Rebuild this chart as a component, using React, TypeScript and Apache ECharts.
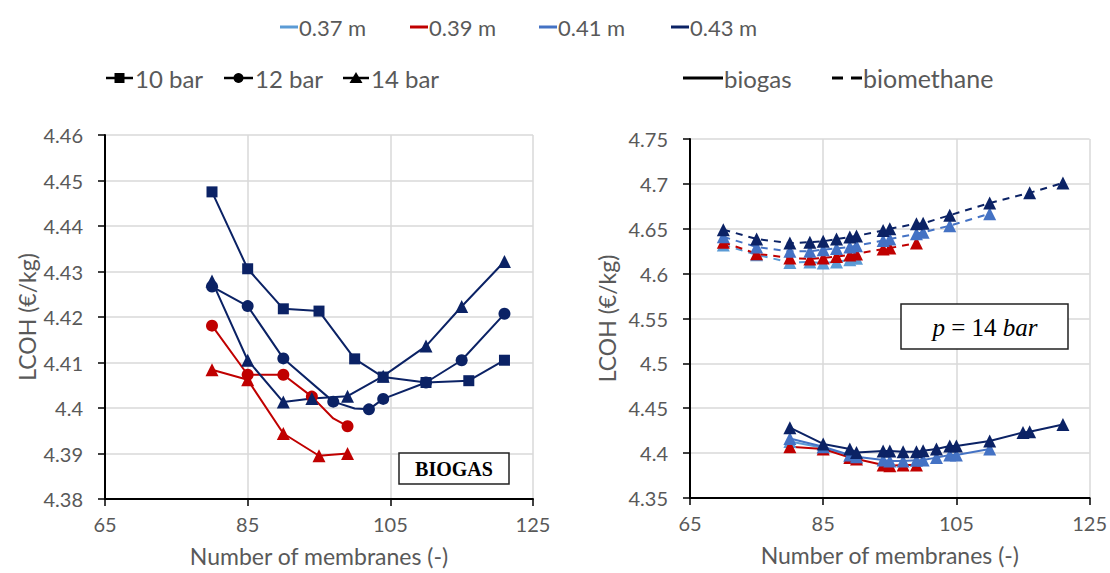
import React, { useEffect, useRef } from "react";
import * as echarts from "echarts";

// ---------- colours per membrane length ----------
const C37 = "#5B9BD5";
const C39 = "#C00000";
const C41 = "#4472C4";
const C43 = "#0B2265";

// ---------- legend labels ----------
const lengthLabels = ["0.37 m", "0.39 m", "0.41 m", "0.43 m"];
const pressureLabels = ["10 bar", "12 bar", "14 bar"];
const gasLabels = ["biogas", "biomethane"];

// ---------- axis ticks ----------
const xTicks = [65, 85, 105, 125];
const leftY = { min: 4.38, max: 4.46, step: 0.01 };
const rightY = { min: 4.35, max: 4.75, step: 0.05 };

// ---------- LEFT panel (biogas) ----------
const l43_10_x = [80, 85, 90, 95, 100, 104, 110, 116, 121];
const l43_10_y = [4.4475, 4.4306, 4.4218, 4.4213, 4.4108, 4.4068, 4.4056, 4.406, 4.4105];
const l43_12_x = [80, 85, 90, 97, 100, 102, 104, 110, 115, 121];
const l43_12_y = [4.4267, 4.4224, 4.4109, 4.4014, 4.3999, 4.3997, 4.402, 4.4056, 4.4105, 4.4207];
const l43_12_plain = [100];
const l43_14_x = [80, 85, 90, 94, 99, 104, 110, 115, 121];
const l43_14_y = [4.4279, 4.4105, 4.4013, 4.4021, 4.4026, 4.407, 4.4136, 4.4223, 4.4322];
const l39_12_x = [80, 85, 90, 94, 97, 99];
const l39_12_y = [4.4181, 4.4073, 4.4073, 4.4025, 4.3977, 4.396];
const l39_12_plain = [97];
const l39_14_x = [80, 85, 90, 95, 99];
const l39_14_y = [4.4084, 4.4062, 4.3944, 4.3895, 4.39];

// ---------- RIGHT panel (14 bar) ----------
const r37_bg_x = [80, 85, 89, 90];
const r37_bg_y = [4.413, 4.406, 4.397, 4.395];
const r39_bg_x = [80, 85, 89, 90, 94, 95, 97, 99];
const r39_bg_y = [4.4071, 4.4046, 4.395, 4.3935, 4.3868, 4.386, 4.3868, 4.3868];
const r41_bg_x = [80, 85, 89, 90, 94, 95, 97, 99, 100, 102, 104, 105, 110];
const r41_bg_y = [4.4164, 4.4071, 4.398, 4.396, 4.3923, 4.3912, 4.3912, 4.392, 4.3923, 4.395, 4.398, 4.398, 4.4046];
const r43_bg_x = [80, 85, 89, 90, 94, 95, 97, 99, 100, 102, 104, 105, 110, 115, 116, 121];
const r43_bg_y = [4.4283, 4.4102, 4.4046, 4.4008, 4.4024, 4.4024, 4.4016, 4.4016, 4.4027, 4.4046, 4.408, 4.408, 4.4135, 4.4231, 4.4239, 4.4318];

const r37_bm_x = [70, 75, 80, 83, 85, 87, 89, 90];
const r37_bm_y = [4.632, 4.621, 4.6125, 4.613, 4.6118, 4.613, 4.6155, 4.617];
const r39_bm_x = [70, 75, 80, 83, 85, 87, 89, 90, 94, 95, 99];
const r39_bm_y = [4.635, 4.6222, 4.6174, 4.6163, 4.6174, 4.619, 4.6207, 4.622, 4.6274, 4.6285, 4.634];
const r41_bm_x = [70, 75, 80, 83, 85, 87, 89, 90, 94, 95, 99, 100, 104, 110];
const r41_bm_y = [4.641, 4.6297, 4.6248, 4.625, 4.6267, 4.628, 4.6297, 4.631, 4.637, 4.6386, 4.6445, 4.646, 4.6534, 4.6668];
const r43_bm_x = [70, 75, 80, 83, 85, 87, 89, 90, 94, 95, 99, 100, 104, 110, 116, 121];
const r43_bm_y = [4.649, 4.6386, 4.634, 4.635, 4.636, 4.6386, 4.6408, 4.642, 4.648, 4.65, 4.6556, 4.656, 4.665, 4.6787, 4.69, 4.701];

const FONT = "Lato, 'Open Sans', sans-serif";
const GREY = "#595959";

function pts(xs: number[], ys: number[], plain: number[] = []) {
  return xs.map((x, i) =>
    plain.includes(x) ? { value: [x, ys[i]], symbol: "none" } : [x, ys[i]]
  );
}

function ser(
  grid: number,
  color: string,
  symbol: string,
  size: number,
  data: any[],
  dashed = false
) {
  return {
    type: "line",
    xAxisIndex: grid,
    yAxisIndex: grid,
    data,
    symbol,
    symbolSize: size,
    showSymbol: true,
    lineStyle: { color, width: 2, type: dashed ? [7, 6] : "solid" },
    itemStyle: { color, borderWidth: 0 },
    emphasis: { disabled: true },
  };
}

function fmt(v: number) {
  return String(parseFloat(v.toFixed(2)));
}

function xAxis(grid: number) {
  return {
    type: "value",
    gridIndex: grid,
    min: xTicks[0],
    max: xTicks[xTicks.length - 1],
    interval: 20,
    name: "Number of membranes (-)",
    nameLocation: "middle",
    nameGap: 45,
    nameTextStyle: { fontFamily: FONT, fontSize: 23, color: GREY },
    axisLine: { show: true, onZero: false, lineStyle: { color: "#000", width: 2 } },
    axisTick: { show: true, inside: false, length: 7, lineStyle: { color: "#000", width: 1.5 } },
    axisLabel: { fontFamily: FONT, fontSize: 20, color: GREY, margin: 15 },
    splitLine: { show: true, lineStyle: { color: "#d9d9d9", width: 1.5 } },
  };
}

function yAxis(grid: number, r: { min: number; max: number; step: number }, gap: number) {
  return {
    type: "value",
    gridIndex: grid,
    min: r.min,
    max: r.max,
    interval: r.step,
    name: "LCOH (€/kg)",
    nameLocation: "middle",
    nameGap: gap,
    nameTextStyle: { fontFamily: FONT, fontSize: 23, color: GREY },
    axisLine: { show: true, onZero: false, lineStyle: { color: "#000", width: 2 } },
    axisTick: { show: true, inside: false, length: 7, lineStyle: { color: "#000", width: 1.5 } },
    axisLabel: { fontFamily: FONT, fontSize: 20, color: GREY, margin: 22, formatter: fmt },
    splitLine: { show: true, lineStyle: { color: "#d9d9d9", width: 1.5 } },
  };
}

function buildGraphic() {
  const g: any[] = [];
  const txt = (x: number, y: number, text: string, size: number) => ({
    type: "text",
    x,
    y,
    style: { text, fontFamily: FONT, fontSize: size, fill: GREY, verticalAlign: "middle" },
  });
  const ln = (x1: number, x2: number, y: number, stroke: string, w = 3) => ({
    type: "line",
    shape: { x1, y1: y, x2, y2: y },
    style: { stroke, lineWidth: w },
  });
  // top legend: membrane lengths
  const lColors = [C37, C39, C41, C43];
  const lStart = [280, 410, 539, 671];
  lengthLabels.forEach((lab, i) => {
    g.push(ln(lStart[i], lStart[i] + 18, 27, lColors[i], 3));
    g.push(txt(lStart[i] + 19, 27, lab, 22));
  });
  // pressure legend
  const pStart = [106, 224, 343];
  const pW = [27, 29, 26];
  pressureLabels.forEach((lab, i) => {
    const x0 = pStart[i];
    const cx = x0 + pW[i] / 2;
    g.push(ln(x0, x0 + pW[i], 78, "#000", 2.5));
    if (i === 0) g.push({ type: "rect", shape: { x: cx - 5, y: 73, width: 10, height: 10 }, style: { fill: "#000" } });
    if (i === 1) g.push({ type: "circle", shape: { cx, cy: 78, r: 5 }, style: { fill: "#000" } });
    if (i === 2)
      g.push({ type: "polygon", shape: { points: [[cx, 72], [cx - 6.5, 83], [cx + 6.5, 83]] }, style: { fill: "#000" } });
    g.push(txt(x0 + pW[i] + 2, 78, lab, 24));
  });
  // gas legend
  g.push(ln(683, 723, 78, "#000", 3));
  g.push(txt(724, 78, gasLabels[0], 24));
  g.push(ln(832, 843, 78, "#000", 3));
  g.push(ln(851, 862, 78, "#000", 3));
  g.push(txt(863, 78, gasLabels[1], 25));
  // BIOGAS box
  g.push({
    type: "rect",
    z: 100,
    shape: { x: 399, y: 453, width: 110, height: 31 },
    style: { fill: "#fff", stroke: "#222", lineWidth: 1.5 },
  });
  g.push({
    type: "text",
    z: 101,
    x: 454,
    y: 469,
    style: {
      text: "BIOGAS",
      fontFamily: "'Liberation Serif', serif",
      fontWeight: "bold",
      fontSize: 20,
      fill: "#000",
      align: "center",
      verticalAlign: "middle",
    },
  });
  // p = 14 bar box
  g.push({
    type: "rect",
    z: 100,
    shape: { x: 901, y: 304, width: 167, height: 45 },
    style: { fill: "#fff", stroke: "#222", lineWidth: 1.5 },
  });
  g.push({
    type: "text",
    z: 101,
    x: 985,
    y: 327,
    style: {
      text: "{i|p} = 14 {i|bar}",
      fontFamily: "'Liberation Serif', serif",
      fontSize: 25,
      fill: "#000",
      align: "center",
      verticalAlign: "middle",
      rich: {
        i: { fontFamily: "'Liberation Serif', serif", fontStyle: "italic", fontSize: 25, fill: "#000" },
      },
    },
  });
  return g;
}

export default function App() {
  const ref = useRef<HTMLDivElement>(null);
  useEffect(() => {
    if (!ref.current) return;
    const chart = echarts.init(ref.current, null, { renderer: "svg" });
    const series: any[] = [
      // left panel
      ser(0, C39, "triangle", 13, pts(l39_14_x, l39_14_y)),
      ser(0, C39, "circle", 12, pts(l39_12_x, l39_12_y, l39_12_plain)),
      ser(0, C43, "circle", 12, pts(l43_12_x, l43_12_y, l43_12_plain)),
      ser(0, C43, "rect", 11, pts(l43_10_x, l43_10_y)),
      ser(0, C43, "triangle", 13, pts(l43_14_x, l43_14_y)),
      // right panel biomethane
      ser(1, C37, "triangle", 13, pts(r37_bm_x, r37_bm_y), true),
      ser(1, C39, "triangle", 13, pts(r39_bm_x, r39_bm_y), true),
      ser(1, C41, "triangle", 13, pts(r41_bm_x, r41_bm_y), true),
      ser(1, C43, "triangle", 13, pts(r43_bm_x, r43_bm_y), true),
      // right panel biogas
      ser(1, C37, "triangle", 13, pts(r37_bg_x, r37_bg_y)),
      ser(1, C39, "triangle", 13, pts(r39_bg_x, r39_bg_y)),
      ser(1, C41, "triangle", 13, pts(r41_bg_x, r41_bg_y)),
      ser(1, C43, "triangle", 13, pts(r43_bg_x, r43_bg_y)),
    ];
    chart.setOption({
      animation: false,
      backgroundColor: "#fff",
      grid: [
        { left: 105, right: 1110 - 533, top: 135, bottom: 573 - 499 },
        { left: 690, right: 1110 - 1091, top: 139, bottom: 573 - 498 },
      ],
      xAxis: [xAxis(0), xAxis(1)],
      yAxis: [yAxis(0, leftY, 67), yAxis(1, rightY, 72)],
      series,
      graphic: buildGraphic(),
    });
    return () => chart.dispose();
  }, []);
  return (
    <div
      ref={ref}
      style={{ position: "fixed", left: 0, top: 0, width: 1110, height: 573, background: "#fff" }}
    />
  );
}
